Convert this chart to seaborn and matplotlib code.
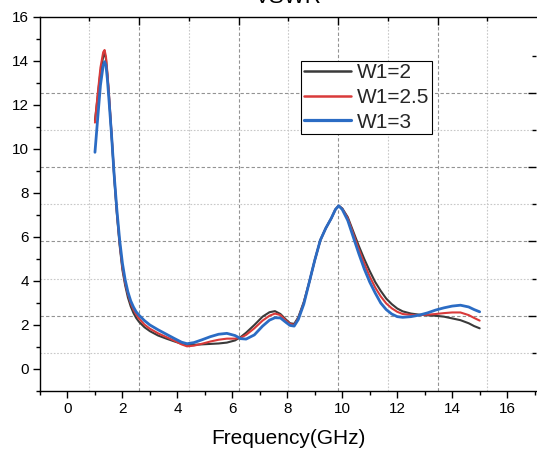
import numpy as np
import pandas as pd
import matplotlib
matplotlib.use("Agg")
import matplotlib.pyplot as plt
from matplotlib.ticker import MultipleLocator, FixedLocator
import seaborn as sns

# ---------------- data ----------------
freq = [1.0, 1.1, 1.2, 1.3, 1.35, 1.4, 1.45, 1.5, 1.6, 1.7, 1.8, 1.9, 2.0, 2.1, 2.2,
        2.3, 2.4, 2.5, 2.6, 2.8, 3.0, 3.3, 3.6, 3.9, 4.15, 4.35, 4.6, 4.9, 5.2, 5.5,
        5.8, 6.1, 6.3, 6.5, 6.8, 7.1, 7.35, 7.55, 7.75, 7.95, 8.1, 8.25, 8.4, 8.6,
        8.8, 9.0, 9.2, 9.4, 9.6, 9.75, 9.87, 10.0, 10.2, 10.4, 10.6, 10.8, 11.0,
        11.2, 11.4, 11.6, 11.8, 12.0, 12.2, 12.5, 12.8, 13.1, 13.4, 13.7, 14.0,
        14.3, 14.6, 14.8, 15.0]

vswr_w2 = [11.3, 12.4, 13.5, 14.2, 14.35, 14.1, 13.4, 12.6, 10.7, 8.7, 7.0, 5.6, 4.5, 3.8, 3.25,
           2.85, 2.55, 2.32, 2.15, 1.9, 1.72, 1.52, 1.38, 1.25, 1.15, 1.1, 1.1, 1.12, 1.14, 1.16,
           1.2, 1.3, 1.45, 1.65, 2.0, 2.38, 2.58, 2.63, 2.5, 2.25, 2.08, 2.05, 2.35, 3.05,
           3.95, 4.95, 5.85, 6.4, 6.85, 7.25, 7.42, 7.3, 6.9, 6.25, 5.6, 5.0, 4.45,
           3.95, 3.55, 3.2, 2.95, 2.75, 2.62, 2.52, 2.47, 2.44, 2.42, 2.38, 2.3,
           2.22, 2.08, 1.95, 1.85]

vswr_w25 = [11.2, 12.5, 13.7, 14.4, 14.5, 14.2, 13.5, 12.7, 10.8, 8.8, 7.1, 5.7, 4.6, 3.9, 3.4,
            3.0, 2.7, 2.48, 2.3, 2.02, 1.83, 1.62, 1.45, 1.28, 1.12, 1.03, 1.06, 1.15, 1.25, 1.33,
            1.38, 1.38, 1.42, 1.55, 1.85, 2.2, 2.42, 2.52, 2.45, 2.2, 2.05, 2.0, 2.3, 3.0,
            3.95, 4.95, 5.85, 6.4, 6.85, 7.25, 7.42, 7.28, 6.85, 6.15, 5.45, 4.8, 4.2,
            3.7, 3.3, 2.98, 2.76, 2.6, 2.5, 2.46, 2.45, 2.47, 2.5, 2.54, 2.57,
            2.57, 2.45, 2.32, 2.2]

vswr_w3 = [9.85, 11.4, 12.9, 13.8, 13.97, 13.8, 13.2, 12.4, 10.7, 8.8, 7.2, 5.85, 4.8, 4.05, 3.5,
           3.1, 2.82, 2.6, 2.45, 2.2, 2.0, 1.78, 1.58, 1.38, 1.22, 1.15, 1.2, 1.33, 1.47, 1.58,
           1.62, 1.52, 1.38, 1.36, 1.55, 1.95, 2.22, 2.33, 2.32, 2.12, 1.98, 1.95, 2.25, 2.95,
           3.95, 4.95, 5.85, 6.4, 6.85, 7.25, 7.42, 7.25, 6.75, 6.0, 5.25, 4.55, 3.95,
           3.45, 3.0, 2.7, 2.5, 2.38, 2.35, 2.38, 2.45, 2.55, 2.68, 2.78, 2.86,
           2.9, 2.82, 2.7, 2.6]

labels = ["W1=2", "W1=2.5", "W1=3"]
colors = ["#3a3a3a", "#d93a3a", "#2b6cc4"]
widths = [1.5, 1.5, 2.0]

df = pd.concat([
    pd.DataFrame({"Frequency": freq, "VSWR": v, "W1": lab})
    for v, lab in zip([vswr_w2, vswr_w25, vswr_w3], labels)
], ignore_index=True)

# ---------------- style ----------------
sns.set_theme(style="white")
plt.rcParams["font.family"] = ["Liberation Sans", "DejaVu Sans"]
plt.rcParams["axes.edgecolor"] = "black"
plt.rcParams["axes.linewidth"] = 1.0

W, H = 537, 451
fig = plt.figure(figsize=(W / 100, H / 100), dpi=100)
ax = fig.add_axes([40 / W, 1 - 391 / H, (536 - 40) / W, (391 - 17) / H])

sns.lineplot(data=df, x="Frequency", y="VSWR", hue="W1", palette=colors,
             hue_order=labels, sort=False, estimator=None, ax=ax, linewidth=1.6,
             legend=True)
for line, lw in zip(ax.get_lines()[:3], widths):
    line.set_linewidth(lw)
    line.set_solid_joinstyle("round")
    line.set_solid_capstyle("round")

# grid (styling overlay)
grid_x_dark = [2.61, 6.23, 9.85, 13.47]
grid_x_light = [0.80, 4.42, 8.04, 11.66, 15.28]
grid_y_dark = [2.42, 5.80, 9.18, 12.56]
grid_y_light = [0.73, 4.11, 7.49, 10.87]
for gx in grid_x_dark:
    ax.axvline(gx, color="#939393", lw=0.8, ls=(0, (3, 2)), zorder=0)
for gx in grid_x_light:
    ax.axvline(gx, color="#c8c8c8", lw=0.8, ls=(0, (1.5, 1.5)), zorder=0)
for gy in grid_y_dark:
    ax.axhline(gy, color="#939393", lw=0.8, ls=(0, (3, 2)), zorder=0)
for gy in grid_y_light:
    ax.axhline(gy, color="#c8c8c8", lw=0.8, ls=(0, (1.5, 1.5)), zorder=0)

ax.set_xlim(-1, 17.05)
ax.set_ylim(-1, 16)
ax.xaxis.set_major_locator(MultipleLocator(2))
ax.xaxis.set_minor_locator(MultipleLocator(1))
ax.yaxis.set_major_locator(MultipleLocator(2))
ax.yaxis.set_minor_locator(MultipleLocator(1))
ax.tick_params(axis="both", which="both", bottom=True, left=True, top=False, right=False)
ax.tick_params(axis="both", which="major", direction="out", length=5, width=1,
               labelsize=11, color="black", labelcolor="black", pad=3)
ax.tick_params(axis="both", which="minor", direction="out", length=3, width=1,
               color="black")
ax.spines["right"].set_visible(False)
ax.spines["top"].set_visible(True)

# top ticks
secx = ax.secondary_xaxis("top")
secx.xaxis.set_major_locator(FixedLocator(grid_x_dark))
secx.xaxis.set_minor_locator(FixedLocator(grid_x_light))
secx.tick_params(which="both", top=True, labeltop=False)
secx.tick_params(which="major", direction="in", length=6, width=1, color="black")
secx.tick_params(which="minor", direction="in", length=3, width=1, color="black")
secx.spines["top"].set_visible(False)

# right ticks
secy = ax.secondary_yaxis("right")
secy.yaxis.set_major_locator(FixedLocator(grid_y_dark))
secy.yaxis.set_minor_locator(FixedLocator(grid_y_light + [14.25]))
secy.tick_params(which="both", right=True, labelright=False)
secy.tick_params(which="major", direction="in", length=6, width=1, color="black")
secy.tick_params(which="minor", direction="in", length=3, width=1, color="black")
secy.spines["right"].set_visible(False)

ax.set_xlabel("Frequency(GHz)", fontsize=15, color="black", labelpad=9)
ax.set_ylabel("")

fig.text(288 / W, 1 - 3 / H, "VSWR", ha="center", va="baseline", fontsize=16,
         color="black")

handles, labs = ax.get_legend_handles_labels()
for h, lw in zip(handles, widths):
    h.set_linewidth(lw + 0.3)
leg = ax.legend(handles, labs, loc="upper left",
                bbox_to_anchor=(301 / W, 1 - 61 / H), bbox_transform=fig.transFigure,
                borderaxespad=0, fontsize=15, handlelength=2.3, handletextpad=0.25,
                labelspacing=0.27, borderpad=0.12, fancybox=False, framealpha=1,
                edgecolor="black", frameon=True)
leg.get_frame().set_linewidth(0.8)

fig.savefig("out.png", dpi=100)
